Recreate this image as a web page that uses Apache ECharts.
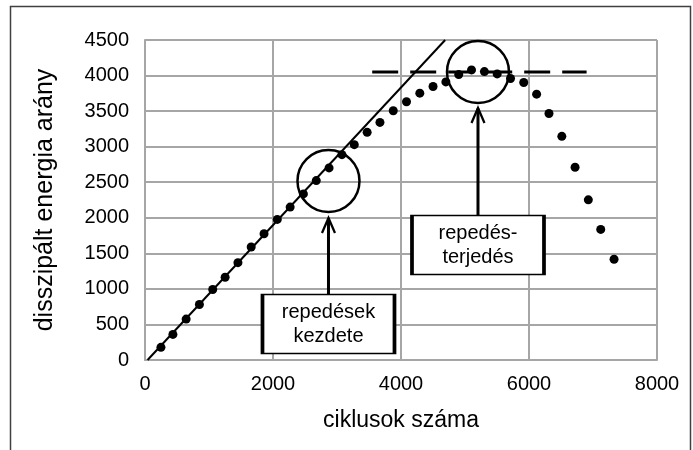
<!DOCTYPE html>
<html>
<head>
<meta charset="utf-8">
<script src="https://cdn.jsdelivr.net/npm/echarts@6/dist/echarts.min.js"></script>
<style>
  html, body { margin: 0; padding: 0; background: #fff; }
  #chart { width: 693px; height: 450px; }
</style>
</head>
<body>
<div id="chart"></div>
<script>
// measured points: [ciklusok száma, disszipált energia arány]
const cycles = [249, 436, 643, 850, 1058, 1252, 1452, 1659, 1860, 2067, 2268, 2475,
  2676, 2876, 3077, 3270, 3471, 3671, 3879, 4086, 4294, 4501, 4701, 4902,
  5102, 5303, 5503, 5711, 5918, 6119, 6312, 6513, 6720, 6927, 7121, 7329];
const energy = [178, 360, 575, 780, 991, 1164, 1369, 1589, 1776, 1977, 2150, 2336,
  2523, 2701, 2888, 3028, 3201, 3341, 3505, 3631, 3752, 3846, 3911, 4014,
  4079, 4056, 4023, 3958, 3902, 3738, 3467, 3145, 2710, 2252, 1836, 1416];

// fitted straight line and plateau level
const fitLine = [[40, 0], [4690, 4500]];
const plateau = [[3550, 4050], [6900, 4050]];

// annotations
const circles = [[2867, 2517], [5203, 4050]];
const arrow1 = [[2867, 914], [2867, 1990]];
const arrow2 = [[5203, 2039], [5203, 3537]];
const boxes = [
  { value: [2867, 506], name: 'repedések\nkezdete' },
  { value: [5203, 1617], name: 'repedés-\nterjedés' }
];

const xTicks = { min: 0, max: 8000, interval: 2000 };
const yTicks = { min: 0, max: 4500, interval: 500 };

const chart = echarts.init(document.getElementById('chart'), null, { renderer: 'canvas' });
const font = 'Liberation Sans, Arial, sans-serif';
const gridColor = '#a6a6a6';
const openArrow = 'path://M0,14 L6,0 L12,14';

function arrowData(pts) {
  return [
    { value: pts[0], symbol: 'none' },
    { value: pts[1], symbol: openArrow, symbolSize: [13, 15], symbolOffset: [0, 7] }
  ];
}

chart.setOption({
  animation: false,
  backgroundColor: '#fff',
  grid: { left: 145, top: 40, width: 512, height: 320 },
  graphic: [{
    type: 'rect',
    shape: { x: 10.5, y: 6.5, width: 680, height: 480 },
    style: { fill: 'none', stroke: '#404040', lineWidth: 1.5 },
    silent: true
  }],
  xAxis: {
    type: 'value',
    min: xTicks.min,
    max: xTicks.max,
    interval: xTicks.interval,
    name: 'ciklusok száma',
    nameLocation: 'middle',
    nameGap: 49,
    nameTextStyle: { fontFamily: font, fontSize: 23, color: '#000' },
    axisLine: { show: true, lineStyle: { color: gridColor, width: 2 } },
    axisTick: { show: false },
    axisLabel: { fontFamily: font, fontSize: 20, color: '#000', margin: 14, formatter: v => String(v) },
    splitLine: { show: true, lineStyle: { color: gridColor, width: 2 } }
  },
  yAxis: {
    type: 'value',
    min: yTicks.min,
    max: yTicks.max,
    interval: yTicks.interval,
    name: 'disszipált energia arány',
    nameLocation: 'middle',
    nameGap: 87,
    nameTextStyle: { fontFamily: font, fontSize: 25, color: '#000' },
    axisLine: { show: true, lineStyle: { color: gridColor, width: 2 } },
    axisTick: { show: false },
    axisLabel: { fontFamily: font, fontSize: 20, color: '#000', margin: 16, formatter: v => String(v) },
    splitLine: { show: true, lineStyle: { color: gridColor, width: 2 } }
  },
  series: [
    {
      type: 'line',
      data: fitLine,
      symbol: 'none',
      lineStyle: { color: '#000', width: 2 },
      z: 3
    },
    {
      type: 'line',
      data: plateau,
      symbol: 'none',
      lineStyle: { color: '#000', width: 3, type: [26, 12] },
      z: 3
    },
    {
      type: 'scatter',
      data: cycles.map((c, i) => [c, energy[i]]),
      symbol: 'circle',
      symbolSize: 9,
      itemStyle: { color: '#000', opacity: 1 },
      z: 4
    },
    {
      type: 'scatter',
      data: circles,
      symbol: 'circle',
      symbolSize: 62,
      itemStyle: { color: 'transparent', borderColor: '#000', borderWidth: 2.5, opacity: 1 },
      z: 5
    },
    {
      type: 'line',
      data: arrowData(arrow1),
      lineStyle: { color: '#000', width: 3 },
      itemStyle: { color: 'transparent', borderColor: '#000', borderWidth: 2.5 },
      z: 5
    },
    {
      type: 'line',
      data: arrowData(arrow2),
      lineStyle: { color: '#000', width: 3 },
      itemStyle: { color: 'transparent', borderColor: '#000', borderWidth: 2.5 },
      z: 5
    },
    {
      type: 'scatter',
      data: boxes,
      symbol: 'rect',
      symbolSize: [132, 59],
      itemStyle: { color: '#fff', borderColor: '#000', borderWidth: 2.5, opacity: 1 },
      label: {
        show: true,
        position: 'inside',
        formatter: p => p.name,
        fontFamily: font,
        fontSize: 20,
        lineHeight: 24,
        color: '#000'
      },
      z: 6
    }
  ]
});
</script>
</body>
</html>
